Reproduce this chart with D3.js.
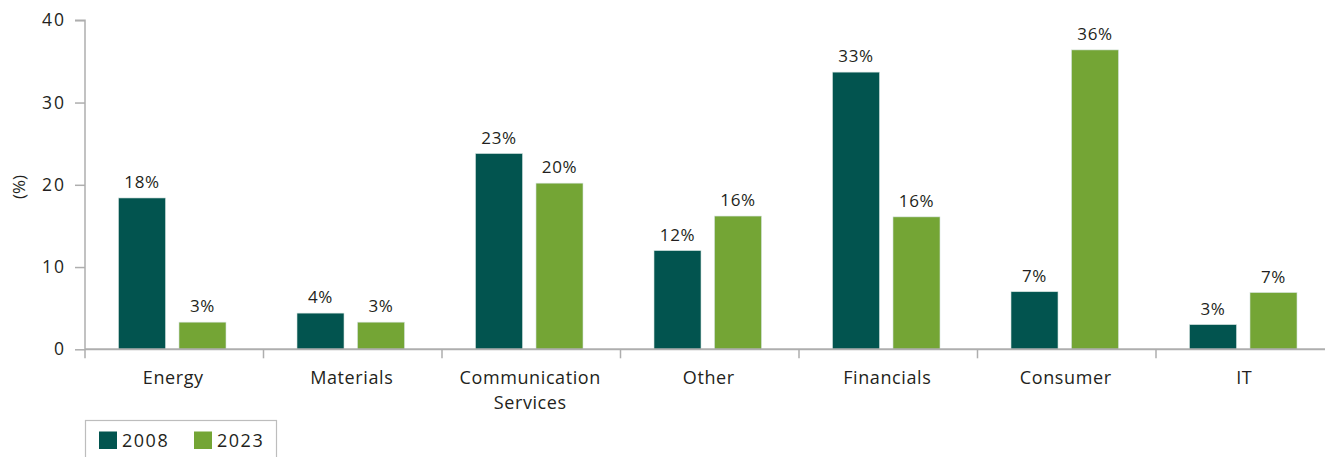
<!DOCTYPE html>
<html><head><meta charset="utf-8">
<script src="https://cdn.jsdelivr.net/npm/d3@7"></script>
<style>
html,body{margin:0;padding:0;background:#fff;}
svg text{font-family:"Open Sans",Lato,sans-serif;fill:#231f20;}
</style></head>
<body><svg id="chart" width="1325" height="457"></svg>
<script>
const categories = ["Energy","Materials","Communication Services","Other","Financials","Consumer","IT"];
const seriesNames = ["2008","2023"];
const values2008 = [18.4, 4.4, 23.8, 12.0, 33.7, 7.0, 3.0];
const values2023 = [3.3, 3.3, 20.2, 16.2, 16.1, 36.4, 6.9];
const labels2008 = ["18%","4%","23%","12%","33%","7%","3%"];
const labels2023 = ["3%","3%","20%","16%","16%","36%","7%"];
const yTicks = [0,10,20,30,40];
const colors = ["#02544f","#74a535"];

const svg = d3.select("#chart");
const x0 = 85, stepW = 178.5;
const x = d3.scaleBand().domain(categories).range([x0, x0 + stepW*categories.length]).padding(0);
const xs = d3.scaleBand().domain(seriesNames).range([33.5, 141]).paddingInner(0.223).paddingOuter(0);
const y = d3.scaleLinear().domain([0,40]).range([349.3, 20.3]);

const data = categories.map((c,i)=>({cat:c, vals:[
  {s:"2008", v:values2008[i], l:labels2008[i]},
  {s:"2023", v:values2023[i], l:labels2023[i]}]}));

// bars
const g = svg.append("g");
const groups = g.selectAll("g.cat").data(data).join("g")
  .attr("transform", d=>`translate(${x(d.cat)},0)`);
groups.selectAll("rect").data(d=>d.vals).join("rect")
  .attr("x", d=>xs(d.s)).attr("width", xs.bandwidth())
  .attr("y", d=>y(d.v)).attr("height", d=>y(0)-y(d.v))
  .attr("fill", (d,i)=>colors[i])
  .attr("stroke", "#d5e3df").attr("stroke-width", 0.6);
groups.selectAll("text.val").data(d=>d.vals).join("text")
  .attr("class","val")
  .attr("x", d=>xs(d.s)+xs.bandwidth()/2)
  .attr("y", d=>y(d.v)-10)
  .attr("text-anchor","middle")
  .style("font-size","17px").style("letter-spacing","0.6px")
  .text(d=>d.l);

// y axis
const axisColor = "#aeaeae";
const yAxis = svg.append("g").attr("transform",`translate(${x0},0)`)
  .call(d3.axisLeft(y).tickValues(yTicks).tickSize(10).tickPadding(9));
yAxis.select(".domain").attr("stroke",axisColor).attr("stroke-width",1.5)
  .attr("d", `M-10,${y(40)}H0V${y(0)}`);
yAxis.selectAll(".tick line").attr("stroke",axisColor).attr("stroke-width",1.5);
yAxis.selectAll(".tick text").style("font-size","17.5px").style("letter-spacing","2px").attr("fill","#231f20");

// x axis
const xAxisG = svg.append("g").attr("transform",`translate(0,${y(0)})`);
xAxisG.append("line").attr("x1",x0).attr("x2",1325).attr("y1",0).attr("y2",0)
  .attr("stroke",axisColor).attr("stroke-width",2);
const tickPos = categories.map(c=>x(c)).concat([x0+stepW*categories.length]);
xAxisG.selectAll("line.t").data(tickPos).join("line").attr("class","t")
  .attr("x1",d=>d).attr("x2",d=>d).attr("y1",0).attr("y2",9)
  .attr("stroke",axisColor).attr("stroke-width",1.5);
xAxisG.selectAll("text.cat").data(categories).join("text").attr("class","cat")
  .attr("x", d=>x(d)+x.bandwidth()/2 - 1)
  .attr("y", 34.5)
  .attr("text-anchor","middle")
  .style("font-size","18px").style("letter-spacing","0.6px")
  .each(function(d){
    const words = d==="Communication Services" ? ["Communication","Services"] : [d];
    d3.select(this).selectAll("tspan").data(words).join("tspan")
      .attr("x", x(d)+x.bandwidth()/2 - 1)
      .attr("dy",(w,i)=>i===0?0:25).text(w=>w);
  });

// y title
svg.append("text").attr("transform","translate(25,187) rotate(-90)")
  .attr("text-anchor","middle").style("font-size","17px").text("(%)");

// legend
const leg = svg.append("g");
leg.append("rect").attr("x",85.5).attr("y",420.5).attr("width",191).attr("height",60)
  .attr("fill","none").attr("stroke","#bdbdbd").attr("stroke-width",1.2);
const legX = [99, 194];
seriesNames.forEach((s,i)=>{
  leg.append("rect").attr("x",legX[i]).attr("y",431.5).attr("width",18).attr("height",17.5).attr("fill",colors[i]);
  leg.append("text").attr("x",legX[i]+23).attr("y",447).style("font-size","18px").style("letter-spacing","1.5px").text(s);
});
</script></body></html>
